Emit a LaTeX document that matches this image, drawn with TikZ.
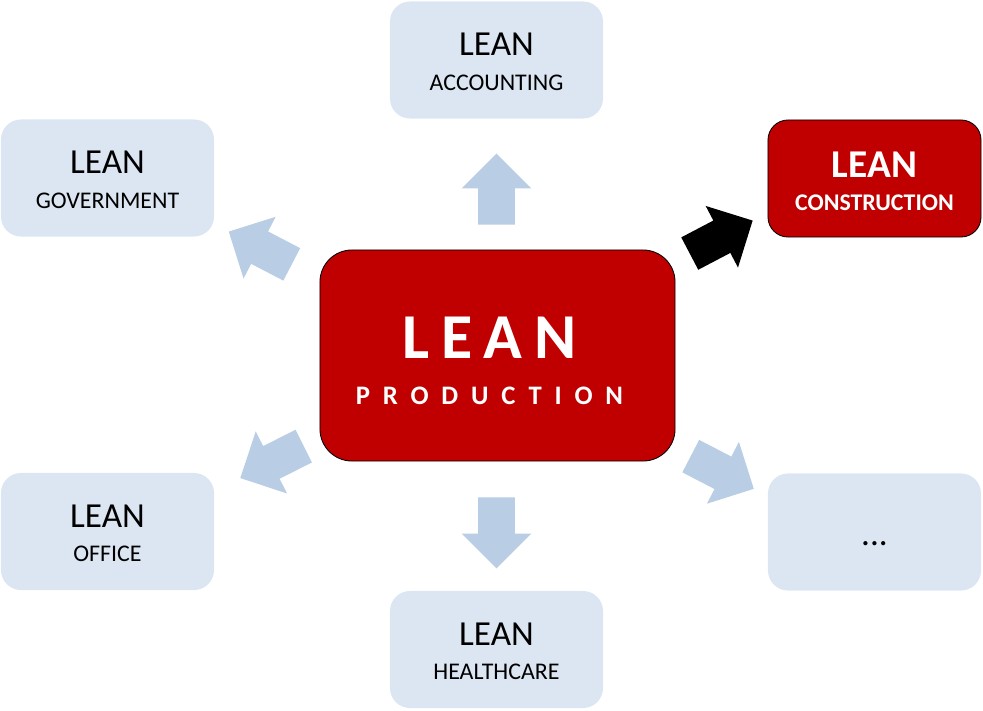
\documentclass[tikz,border=0pt]{standalone}
\usepackage{fontspec}
\setmainfont{Carlito}
\usepackage{tikz}
\usetikzlibrary{shapes.arrows}
\definecolor{leanred}{RGB}{192,0,0}
\definecolor{paleblue}{RGB}{220,230,242}
\definecolor{arrowblue}{RGB}{185,205,228}

\begin{document}
\begin{tikzpicture}[
  x=0.025cm, y=-0.025cm,
  box/.style={rectangle, rounded corners=0.5cm, minimum width=5.325cm, minimum height=2.925cm, inner sep=0pt, fill=paleblue},
  redbox/.style={box, fill=leanred, draw=black, line width=0.6pt},
  lean/.style={anchor=base, inner sep=0pt, font=\fontsize{25}{30}\selectfont},
  sub/.style={anchor=base, inner sep=0pt, font=\fontsize{17}{20}\selectfont},
  blockarrow/.style={single arrow, anchor=tail, fill=arrowblue, inner xsep=0pt, inner ysep=0.45cm, minimum height=1.775cm, single arrow head extend=0.4125cm, single arrow tip angle=90}
]
\useasboundingbox (0,0) rectangle (983,710);

% Center
\node[redbox, rounded corners=0.8cm, minimum width=8.875cm, minimum height=5.275cm] (Prod) at (497.5,355.5) {};
\node[anchor=base, inner sep=0pt, text=white, font=\fontsize{45.5}{50}\selectfont\bfseries\addfontfeature{LetterSpace=19}] (ProdT) at ([xshift=-0.2cm, yshift=-0.0625cm]Prod.center) {LEAN};
\node[anchor=base, inner sep=0pt, text=white, font=\fontsize{19}{22}\selectfont\bfseries\addfontfeature{LetterSpace=48}] (ProdS) at ([xshift=-0.2cm, yshift=-1.2125cm]Prod.center) {PRODUCTION};

% Accounting
\node[box] (Acc) at (496.5,60) {};
\node[lean] (AccT) at ([yshift=0.1125cm]Acc.center) {LEAN};
\node[sub] (AccS) at ([yshift=-0.75cm]Acc.center) {ACCOUNTING};

% Government
\node[box] (Gov) at (107.5,178) {};
\node[lean] (GovT) at ([yshift=0.1125cm]Gov.center) {LEAN};
\node[sub] (GovS) at ([yshift=-0.75cm]Gov.center) {GOVERNMENT};

% Construction
\node[redbox] (Con) at (874.5,178.5) {};
\node[anchor=base, inner sep=0pt, text=white, font=\fontsize{28}{32}\selectfont\bfseries] (ConT) at ([yshift=0.0375cm]Con.center) {LEAN};
\node[anchor=base, inner sep=0pt, text=white, font=\fontsize{17}{20}\selectfont\bfseries] (ConS) at ([yshift=-0.7875cm]Con.center) {CONSTRUCTION};

% Office
\node[box] (Off) at (107.5,531.5) {};
\node[lean] (OffT) at ([yshift=0.1125cm]Off.center) {LEAN};
\node[sub] (OffS) at ([yshift=-0.75cm]Off.center) {OFFICE};

% More
\node[box] (Etc) at (874.5,532) {};
\node[lean] (EtcT) at ([yshift=-0.325cm]Etc.center) {...};

% Healthcare
\node[box] (Hea) at (496.5,649.5) {};
\node[lean] (HeaT) at ([yshift=0.1125cm]Hea.center) {LEAN};
\node[sub] (HeaS) at ([yshift=-0.75cm]Hea.center) {HEALTHCARE};

% Arrows
\node[blockarrow, rotate=90] (ToAcc) at (496.5,225) {};
\node[blockarrow, rotate=-90] (ToHea) at (496.5,497) {};
\node[blockarrow, rotate=152.5] (ToGov) at (292,264.5) {};
\node[blockarrow, rotate=-153.3] (ToOff) at (304,446) {};
\node[blockarrow, rotate=-27.4] (ToEtc) at (690.5,456) {};
\node[blockarrow, fill=black, rotate=27.7] (ToCon) at (689.5,253.7) {};

\end{tikzpicture}
\end{document}
